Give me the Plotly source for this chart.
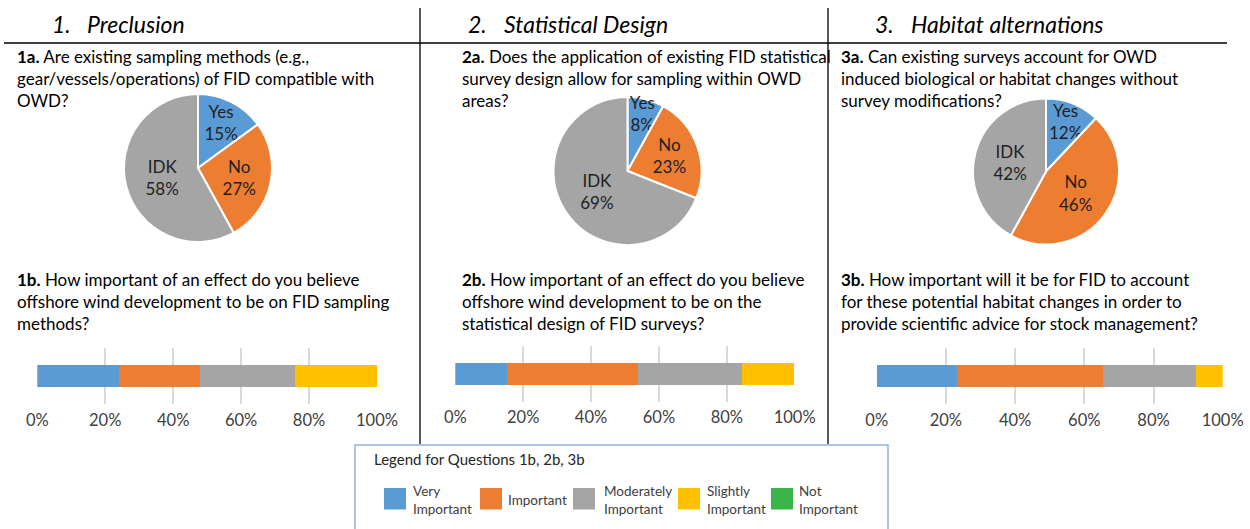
import plotly.graph_objects as go

W, H = 1250, 529

# ---------------- data ----------------
pie_labels = ["Yes", "No", "IDK"]
pie_1a = [15, 27, 58]
pie_2a = [8, 23, 69]
pie_3a = [12, 46, 42]
pie_colors = ["#5B9BD5", "#ED7D31", "#A5A5A5"]

imp_categories = ["Very Important", "Important", "Moderately Important",
                  "Slightly Important", "Not Important"]
imp_legend_text = ["Very<br>Important", "Important", "Moderately<br>Important",
                   "Slightly<br>Important", "Not<br>Important"]
imp_1b = [24.0, 24.0, 28.0, 24.0, 0.0]
imp_2b = [15.4, 38.5, 30.8, 15.3, 0.0]
imp_3b = [23.1, 42.3, 26.9, 7.7, 0.0]
imp_colors = ["#5B9BD5", "#ED7D31", "#A5A5A5", "#FFC000", "#3BB54A"]

tick_vals = [0, 20, 40, 60, 80, 100]
tick_text = ["0%", "20%", "40%", "60%", "80%", "100%"]

section_nums = ["1.", "2.", "3."]
section_titles = ["Preclusion", "Statistical Design", "Habitat alternations"]

q_a = [
    "<b>1a.</b> Are existing sampling methods (e.g.,<br>gear/vessels/operations) of FID compatible with<br>OWD?",
    "<b>2a.</b> Does the application of existing FID statistical<br>survey design allow for sampling within OWD<br>areas?",
    "<b>3a.</b> Can existing surveys account for OWD<br>induced biological or habitat changes without<br>survey modifications?",
]
q_b = [
    "<b>1b.</b> How important of an effect do you believe<br>offshore wind development to be on FID sampling<br>methods?",
    "<b>2b.</b> How important of an effect do you believe<br>offshore wind development to be on the<br>statistical design of FID surveys?",
    "<b>3b.</b> How important will it be for FID to account<br>for these potential habitat changes in order to<br>provide scientific advice for stock management?",
]
legend_title = "Legend for Questions 1b, 2b, 3b"

FONT = "Lato"


def px(x):
    return x / W


def py(y):
    return 1 - y / H


fig = go.Figure()

# ---------------- pies ----------------
pie_geo = [(198, 168, 74), (627.5, 171, 74), (1046, 171.5, 73)]
for vals, (cx, cy, r) in zip([pie_1a, pie_2a, pie_3a], pie_geo):
    fig.add_trace(go.Pie(
        labels=pie_labels, values=vals, sort=False, direction="clockwise",
        rotation=0,
        marker=dict(colors=pie_colors, line=dict(color="white", width=2)),
        texttemplate="%{label}<br>%{value}%", textposition="inside",
        insidetextorientation="horizontal",
        textfont=dict(family=FONT, size=17, color="#1f1f1f"),
        domain=dict(x=[px(cx - r), px(cx + r)], y=[py(cy + r), py(cy - r)]),
        showlegend=False, hoverinfo="label+percent",
    ))

# ---------------- stacked bars ----------------
bar_geo = [  # x0px, x100px, ytop, ybot
    (37.3, 377.0, 348, 404),
    (455.3, 794.7, 345.5, 401.5),
    (876.7, 1222.7, 348, 404),
]
for k, vals in enumerate([imp_1b, imp_2b, imp_3b]):
    sfx = "" if k == 0 else str(k + 1)
    for cat, v, c in zip(imp_categories, vals, imp_colors):
        fig.add_trace(go.Bar(
            x=[v], y=[""], orientation="h", name=cat, marker_color=c,
            marker_line_width=0, width=0.4, xaxis="x" + sfx, yaxis="y" + sfx,
            showlegend=False,
        ))
    x0, x1, yt, yb = bar_geo[k]
    fig.layout["xaxis" + sfx] = dict(
        domain=[px(x0), px(x1)], range=[0, 100], anchor="y" + sfx,
        tickvals=tick_vals, ticktext=tick_text, showgrid=True,
        gridcolor="#D9D9D9", gridwidth=1.5, zeroline=False, showline=False,
        ticks="", ticklabelstandoff=4,
        tickfont=dict(family=FONT, size=16.5, color="#404040"),
        fixedrange=True, automargin=False,
    )
    fig.layout["yaxis" + sfx] = dict(
        domain=[py(yb), py(yt)], range=[-0.5, 0.5], anchor="x" + sfx,
        showticklabels=False, showgrid=False, zeroline=False, showline=False,
        fixedrange=True, automargin=False,
    )

# ---------------- text ----------------
ann = []
num_x = [50, 466, 873]
title_x = [85, 502, 909]
for n, t, nx, tx in zip(section_nums, section_titles, num_x, title_x):
    ann.append(dict(text="<i>%s</i>" % n, x=px(nx), y=py(24), xref="paper", yref="paper",
                    xanchor="left", yanchor="middle", showarrow=False,
                    font=dict(family=FONT, size=23, color="black")))
    ann.append(dict(text="<i>%s</i>" % t, x=px(tx), y=py(24), xref="paper", yref="paper",
                    xanchor="left", yanchor="middle", showarrow=False,
                    font=dict(family=FONT, size=23, color="black")))

q_x = [15, 460, 839]
for qa, qb, qx in zip(q_a, q_b, q_x):
    ann.append(dict(text=qa, x=px(qx), y=py(79), xref="paper", yref="paper",
                    xanchor="left", yanchor="middle", align="left", showarrow=False,
                    font=dict(family=FONT, size=17, color="black")))
    ann.append(dict(text=qb, x=px(qx), y=py(301), xref="paper", yref="paper",
                    xanchor="left", yanchor="middle", align="left", showarrow=False,
                    font=dict(family=FONT, size=17, color="black")))

# legend box content
ann.append(dict(text=legend_title, x=px(372), y=py(459), xref="paper", yref="paper",
                xanchor="left", yanchor="middle", showarrow=False,
                font=dict(family=FONT, size=15, color="#262626")))

shapes = []
sw_x = [384, 480, 573, 678, 771]
lab_x = [411, 506, 602, 705, 797]
for c, lt, sx, lx in zip(imp_colors, imp_legend_text, sw_x, lab_x):
    shapes.append(dict(type="rect", xref="paper", yref="paper",
                       x0=px(sx), x1=px(sx + 22), y0=py(509.5), y1=py(488),
                       fillcolor=c, line=dict(width=0)))
    ann.append(dict(text=lt, x=px(lx), y=py(500), xref="paper", yref="paper",
                    xanchor="left", yanchor="middle", align="left", showarrow=False,
                    font=dict(family=FONT, size=13.5, color="#404040")))

# separators
line_style = dict(color="black", width=1.3)
shapes.append(dict(type="line", xref="paper", yref="paper",
                   x0=px(4), x1=px(1227), y0=py(43), y1=py(43), line=line_style))
for vx in [420, 828]:
    shapes.append(dict(type="line", xref="paper", yref="paper",
                       x0=px(vx), x1=px(vx), y0=py(8), y1=py(444), line=line_style))
shapes.append(dict(type="rect", xref="paper", yref="paper",
                   x0=px(355), x1=px(888), y0=py(535), y1=py(445),
                   line=dict(color="#8DB4E2", width=1.5), fillcolor="rgba(0,0,0,0)"))

fig.update_layout(
    width=W, height=H, autosize=False,
    margin=dict(l=0, r=0, t=0, b=0, pad=0, autoexpand=False),
    paper_bgcolor="white", plot_bgcolor="white",
    barmode="stack", bargap=0,
    annotations=ann, shapes=shapes,
    font=dict(family=FONT),
    uniformtext=dict(minsize=15, mode="show"),
)

post = ("document.body.style.margin='0';document.body.style.padding='0';"
        "document.body.style.overflow='hidden';"
        "document.documentElement.style.overflow='hidden';")
fig.write_html("out.html", config={"responsive": False, "displayModeBar": False},
               post_script=post)
